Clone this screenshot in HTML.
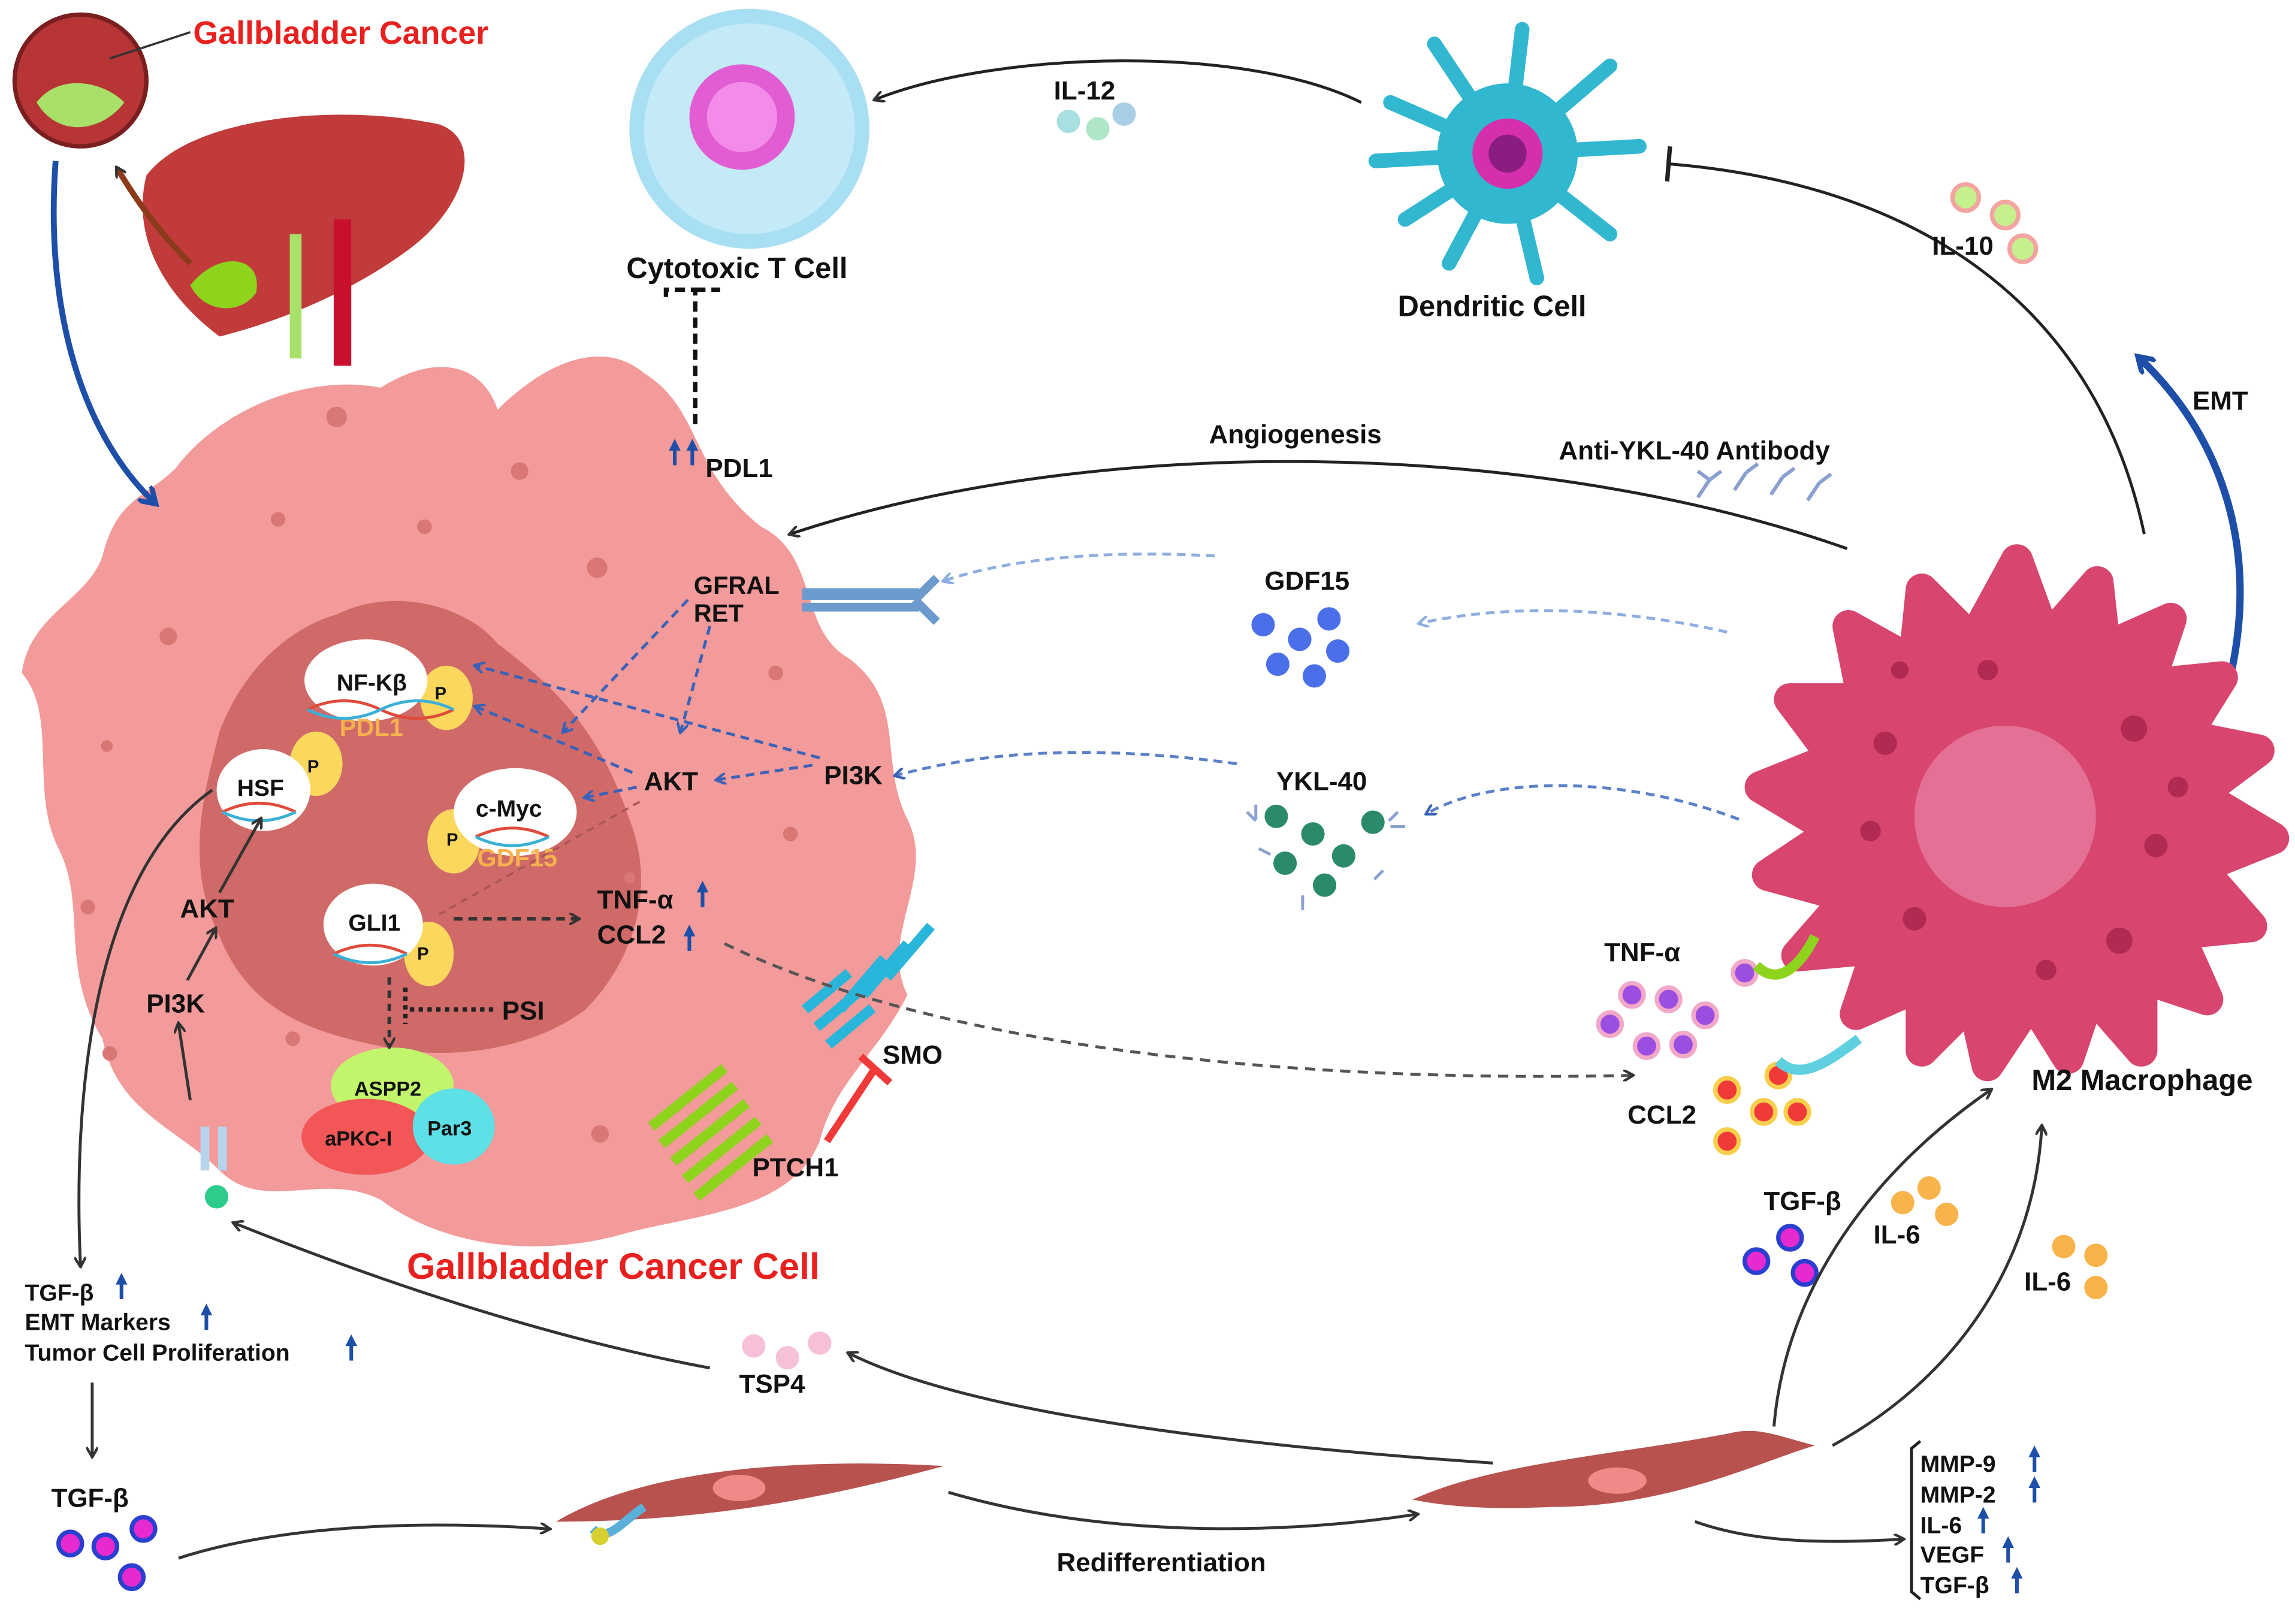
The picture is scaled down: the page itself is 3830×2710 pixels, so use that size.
<!DOCTYPE html>
<html><head><meta charset="utf-8"><style>
html,body{margin:0;padding:0;background:#fff;}
svg{display:block}
text{font-family:"Liberation Sans",sans-serif;font-weight:bold;fill:#111}
</style></head><body>
<svg width="3830" height="2710" viewBox="0 0 1568 1110" preserveAspectRatio="none" xmlns="http://www.w3.org/2000/svg">
<defs>
<marker id="ag" markerWidth="8" markerHeight="8" refX="6" refY="4" orient="auto" markerUnits="userSpaceOnUse"><path d="M0,0 L7,4 L0,8" fill="none" stroke="#333" stroke-width="1.8"/></marker>
<marker id="ab" markerWidth="8" markerHeight="8" refX="6" refY="4" orient="auto" markerUnits="userSpaceOnUse"><path d="M0,0 L7,4 L0,8" fill="none" stroke="#3a62b8" stroke-width="1.8"/></marker>
<marker id="al" markerWidth="8" markerHeight="8" refX="6" refY="4" orient="auto" markerUnits="userSpaceOnUse"><path d="M0,0 L7,4 L0,8" fill="none" stroke="#8eaee0" stroke-width="1.8"/></marker>
<marker id="aB" markerWidth="14" markerHeight="14" refX="9" refY="7" orient="auto" markerUnits="userSpaceOnUse"><path d="M0,0 L11,7 L0,14" fill="none" stroke="#1e4fa8" stroke-width="3.5"/></marker>
<marker id="tb" markerWidth="4" markerHeight="24" refX="2" refY="12" orient="auto" markerUnits="userSpaceOnUse"><path d="M2,0 L2,24" stroke="#222" stroke-width="3"/></marker>
<g id="up"><path d="M0,0 L0,-14" stroke="#1e4fa8" stroke-width="2.5"/><path d="M-4,-10 L0,-18 L4,-10 Z" fill="#1e4fa8"/></g>
</defs>

<!-- cancer cell -->
<path d="M120,320 C150,280 210,255 260,265 C300,240 330,250 340,280 C370,250 410,230 440,255 C480,280 470,320 520,360 C560,380 545,430 580,450 C620,480 600,520 620,560 C640,600 600,640 620,680 C600,720 570,740 560,780 C540,830 470,830 420,845 C360,860 300,850 260,820 C220,800 180,830 150,800 C120,770 80,760 70,710 C40,660 60,620 40,580 C20,540 40,490 15,460 C20,420 60,410 70,380 C80,340 100,340 120,320 Z" fill="#f39a9a"/>
<path d="M230,420 C270,400 320,415 340,440 C380,470 410,500 430,560 C450,610 430,660 400,690 C360,720 300,725 260,715 C210,705 170,690 150,640 C125,590 140,540 150,500 C165,460 195,430 230,420 Z" fill="#cf6a68"/>
<g fill="#d97775">
<circle cx="230" cy="285" r="7"/><circle cx="355" cy="322" r="6"/><circle cx="408" cy="388" r="7"/><circle cx="190" cy="355" r="5"/><circle cx="115" cy="435" r="6"/><circle cx="73" cy="510" r="4"/><circle cx="530" cy="460" r="5"/><circle cx="540" cy="570" r="5"/><circle cx="60" cy="620" r="5"/><circle cx="75" cy="720" r="5"/><circle cx="410" cy="775" r="6"/><circle cx="200" cy="710" r="5"/><circle cx="430" cy="600" r="4"/><circle cx="290" cy="360" r="5"/></g>

<!-- nucleus items -->
<ellipse cx="305" cy="477" rx="18" ry="22" fill="#fbd85d"/><ellipse cx="250" cy="465" rx="42" ry="28" fill="#fff"/>
<text x="230" y="472" font-size="16">NF-Kβ</text><text x="297" y="478" font-size="12">P</text>
<text x="232" y="503" font-size="17" style="fill:#f6b24e">PDL1</text>
<ellipse cx="216" cy="522" rx="18" ry="22" fill="#fbd85d"/><ellipse cx="180" cy="540" rx="32" ry="28" fill="#fff"/>
<text x="162" y="544" font-size="16">HSF</text><text x="210" y="528" font-size="12">P</text>
<ellipse cx="310" cy="575" rx="18" ry="22" fill="#fbd85d"/><ellipse cx="352" cy="555" rx="42" ry="30" fill="#fff"/>
<text x="325" y="558" font-size="16">c-Myc</text><text x="305" y="578" font-size="12">P</text>
<text x="326" y="592" font-size="17" style="fill:#f6b24e">GDF15</text>
<ellipse cx="293" cy="652" rx="17" ry="22" fill="#fbd85d"/><ellipse cx="255" cy="632" rx="34" ry="28" fill="#fff"/>
<text x="238" y="636" font-size="16">GLI1</text><text x="285" y="656" font-size="12">P</text>
<g stroke="#e04a3a" stroke-width="2" fill="none"><path d="M210,485 q25,-12 50,0 t50,0"/><path d="M152,555 q25,-12 50,0"/><path d="M325,572 q25,-12 50,0"/><path d="M228,652 q25,-12 50,0"/></g>
<g stroke="#3ab0d8" stroke-width="2" fill="none"><path d="M210,485 q25,12 50,0 t50,0"/><path d="M152,555 q25,12 50,0"/><path d="M325,572 q25,12 50,0"/><path d="M228,652 q25,12 50,0"/></g>

<!-- ASPP2 etc -->
<ellipse cx="268" cy="742" rx="42" ry="26" fill="#c2f56b"/>
<ellipse cx="250" cy="777" rx="44" ry="26" fill="#f25656"/>
<ellipse cx="310" cy="770" rx="28" ry="26" fill="#5de0e6"/>
<text x="242" y="749" font-size="14">ASPP2</text><text x="222" y="783" font-size="14">aPKC-I</text><text x="292" y="776" font-size="14">Par3</text>

<!-- cell labels -->
<text x="474" y="406" font-size="17">GFRAL</text><text x="474" y="425" font-size="17">RET</text>
<text x="440" y="540" font-size="18">AKT</text><text x="563" y="536" font-size="18">PI3K</text>
<text x="408" y="621" font-size="18">TNF-α</text><text x="408" y="645" font-size="18">CCL2</text>
<use href="#up" x="480" y="620"/><use href="#up" x="471" y="650"/>
<text x="343" y="697" font-size="18">PSI</text>
<text x="123" y="627" font-size="18">AKT</text><text x="100" y="692" font-size="18">PI3K</text>
<text x="603" y="727" font-size="18">SMO</text><text x="514" y="804" font-size="18">PTCH1</text>
<text x="482" y="326" font-size="18">PDL1</text>
<text x="278" y="874" font-size="25" style="fill:#e8201e">Gallbladder Cancer Cell</text>

<!-- receptor GFRAL -->
<rect x="548" y="402" width="80" height="8" fill="#6b9bcd"/><rect x="548" y="412" width="80" height="6" fill="#6b9bcd"/>
<path d="M625,410 L640,395 M625,410 L640,425" stroke="#6b9bcd" stroke-width="6"/>

<!-- SMO / PTCH1 -->
<g stroke="#29b6db" stroke-width="7"><path d="M550,690 l30,-25 M558,702 l30,-25 M566,714 l30,-25 M574,690 l30,-35 M590,680 l30,-35 M606,668 l30,-35"/></g>
<g stroke="#8ed31c" stroke-width="7"><path d="M445,770 l50,-40 M452,782 l50,-40 M460,794 l50,-40 M468,806 l50,-40 M476,818 l50,-40"/></g>
<path d="M565,780 L598,730 M588,722 L608,740" stroke="#f03a3a" stroke-width="5"/>

<!-- inner arrows -->
<g stroke="#3a62b8" stroke-width="2" stroke-dasharray="6,4" fill="none">
<path d="M555,523 L490,533" marker-end="url(#ab)"/>
<path d="M435,538 L400,545" marker-end="url(#ab)"/>
<path d="M560,518 L325,455" marker-end="url(#ab)"/>
<path d="M432,528 L325,483" marker-end="url(#ab)"/>
<path d="M470,410 L385,500" marker-end="url(#ab)"/>
<path d="M485,428 L465,500" marker-end="url(#ab)"/>
</g>
<path d="M845,522 C720,505 650,520 612,530" stroke="#5a80c8" stroke-width="2" stroke-dasharray="6,4" fill="none" marker-end="url(#ab)"/>
<path d="M830,380 C740,375 680,385 645,397" stroke="#8eaee0" stroke-width="2" stroke-dasharray="6,4" fill="none" marker-end="url(#al)"/>
<path d="M1180,432 C1090,412 1020,415 970,426" stroke="#8eaee0" stroke-width="2" stroke-dasharray="6,4" fill="none" marker-end="url(#al)"/>
<path d="M1188,560 C1110,530 1020,530 975,556" stroke="#5a80c8" stroke-width="2" stroke-dasharray="6,4" fill="none" marker-end="url(#ab)"/>
<path d="M310,628 L395,628" stroke="#333" stroke-width="2.5" stroke-dasharray="6,4" marker-end="url(#ag)"/>
<path d="M437,548 L300,625" stroke="#a55" stroke-width="1.5" stroke-dasharray="5,4"/>
<path d="M266,668 L266,715" stroke="#333" stroke-width="2.5" stroke-dasharray="5,4" marker-end="url(#ag)"/>
<path d="M277,675 L277,700 M280,690 L338,690" stroke="#222" stroke-width="3" stroke-dasharray="3,3"/>
<path d="M495,645 C650,720 900,740 1115,735" stroke="#555" stroke-width="2" stroke-dasharray="7,5" fill="none" marker-end="url(#ag)"/>
<g stroke="#333" stroke-width="2" fill="none">
<path d="M130,752 L122,700" marker-end="url(#ag)"/><path d="M128,670 L147,635" marker-end="url(#ag)"/><path d="M150,610 L178,560" marker-end="url(#ag)"/>
<path d="M145,540 C60,600 50,760 55,865" marker-end="url(#ag)"/>
</g>
<!-- receptor bottom-left -->
<path d="M140,800 L140,770 M152,800 L152,770" stroke="#b8d4ec" stroke-width="6"/><circle cx="148" cy="818" r="8" fill="#2ecc8a"/>

<!-- T cell / PDL1 link -->
<path d="M475,290 L475,198 L455,198 L455,206 M475,198 L492,198" stroke="#111" stroke-width="3" stroke-dasharray="7,4" fill="none"/>
<use href="#up" x="461" y="318"/><use href="#up" x="473" y="318"/>

<circle cx="512" cy="88" r="82" fill="#a9dff3"/><circle cx="512" cy="88" r="72" fill="#c4e9f7"/>
<circle cx="507" cy="80" r="36" fill="#e25cd4"/><circle cx="507" cy="80" r="24" fill="#f38be8"/>
<text x="428" y="190" font-size="20">Cytotoxic T Cell</text>

<!-- dendritic -->
<g stroke="#32b7d0" stroke-width="10" stroke-linecap="round" fill="none">
<path d="M1030,105 L950,70 M1030,105 L940,110 M1030,105 L960,150 M1030,105 L990,180 M1030,105 L1050,190 M1030,105 L1100,160 M1030,105 L1120,100 M1030,105 L1100,45 M1030,105 L1040,20 M1030,105 L980,30"/></g>
<circle cx="1030" cy="105" r="48" fill="#32b7d0"/><circle cx="1030" cy="105" r="24" fill="#d52fae"/><circle cx="1030" cy="105" r="13" fill="#8a1d80"/>
<text x="955" y="216" font-size="20">Dendritic Cell</text>

<path d="M930,70 C850,30 680,35 598,68" stroke="#222" stroke-width="2" fill="none" marker-end="url(#ag)"/>
<text x="720" y="68" font-size="18">IL-12</text>
<circle cx="730" cy="83" r="8" fill="#a8dfe0"/><circle cx="750" cy="88" r="8" fill="#b0e6c8"/><circle cx="768" cy="78" r="8" fill="#a8cfe6"/>
<path d="M1465,365 C1430,200 1300,125 1140,112" stroke="#222" stroke-width="2" fill="none" marker-end="url(#tb)"/>
<text x="1320" y="174" font-size="18">IL-10</text>
<circle cx="1343" cy="135" r="9" fill="#c6ef8d" stroke="#f3a4a0" stroke-width="3"/><circle cx="1370" cy="147" r="9" fill="#c6ef8d" stroke="#f3a4a0" stroke-width="3"/><circle cx="1382" cy="170" r="9" fill="#c6ef8d" stroke="#f3a4a0" stroke-width="3"/>
<path d="M1522,470 C1545,380 1520,300 1462,245" stroke="#1e4fa8" stroke-width="5" fill="none" marker-end="url(#aB)"/>
<text x="1498" y="280" font-size="18">EMT</text>

<path d="M1262,375 C1050,300 750,295 540,365" stroke="#222" stroke-width="2" fill="none" marker-end="url(#ag)"/>
<text x="826" y="303" font-size="18">Angiogenesis</text>
<text x="1065" y="314" font-size="18">Anti-YKL-40 Antibody</text>
<g stroke="#8aa0d0" stroke-width="2.5" fill="none"><path d="M1160,340 l8,-12 l-8,-6 M1168,328 l8,-6 M1185,335 l8,-12 M1193,323 l8,-6 M1210,338 l8,-12 M1218,326 l8,-6 M1235,342 l8,-12 M1243,330 l8,-6"/></g>

<!-- GDF15 / YKL40 -->
<text x="864" y="403" font-size="18">GDF15</text>
<g fill="#4a6fe8"><circle cx="863" cy="427" r="8"/><circle cx="888" cy="437" r="8"/><circle cx="908" cy="423" r="8"/><circle cx="873" cy="454" r="8"/><circle cx="898" cy="462" r="8"/><circle cx="914" cy="445" r="8"/></g>
<text x="872" y="540" font-size="18">YKL-40</text>
<g fill="#2a8a6a"><circle cx="872" cy="558" r="8"/><circle cx="897" cy="570" r="8"/><circle cx="938" cy="562" r="8"/><circle cx="878" cy="590" r="8"/><circle cx="918" cy="585" r="8"/><circle cx="905" cy="605" r="8"/></g>
<g stroke="#8aa0d0" stroke-width="2" fill="none"><path d="M852,555 l6,6 M858,550 l0,10 M955,555 l-6,6 M960,565 l-10,0 M945,595 l-6,6 M860,580 l8,4 M890,612 l0,10"/></g>

<!-- macrophage -->
<g transform="translate(1378,558)">
<g fill="#d8456f" stroke="#d8456f" stroke-width="22" stroke-linejoin="round" stroke-linecap="round">
<path d="M0,-175 L20,-120 L55,-160 L60,-115 L105,-135 L90,-90 L140,-95 L115,-55 L165,-45 L125,-15 L175,15 L125,35 L160,75 L110,80 L130,125 L85,110 L85,160 L50,120 L35,165 L10,125 L-20,170 L-30,125 L-65,160 L-65,115 L-110,135 L-95,90 L-150,95 L-115,55 L-170,40 L-125,10 L-175,-20 L-125,-40 L-155,-80 L-105,-80 L-115,-130 L-70,-105 L-65,-155 L-30,-120 Z"/>
</g>
<circle cx="-8" cy="0" r="62" fill="#e57096"/>
<g fill="#b02a52"><circle cx="-90" cy="-50" r="8"/><circle cx="-100" cy="10" r="7"/><circle cx="-70" cy="70" r="8"/><circle cx="80" cy="-60" r="9"/><circle cx="95" cy="20" r="8"/><circle cx="70" cy="85" r="9"/><circle cx="-20" cy="-100" r="7"/><circle cx="20" cy="105" r="7"/><circle cx="-80" cy="-100" r="6"/><circle cx="110" cy="-20" r="7"/></g>
</g>
<text x="1388" y="745" font-size="20">M2 Macrophage</text>

<!-- TNF/CCL2 near macrophage -->
<text x="1096" y="657" font-size="18">TNF-α</text>
<g fill="#9b4fe0" stroke="#f2a8c8" stroke-width="3"><circle cx="1115" cy="680" r="8"/><circle cx="1140" cy="683" r="8"/><circle cx="1165" cy="694" r="8"/><circle cx="1100" cy="700" r="8"/><circle cx="1125" cy="715" r="8"/><circle cx="1150" cy="714" r="8"/><circle cx="1192" cy="665" r="8"/></g>
<path d="M1200,660 C1215,675 1230,660 1240,640" stroke="#8ed31c" stroke-width="7" fill="none"/>
<text x="1112" y="768" font-size="18">CCL2</text>
<g fill="#f03a3a" stroke="#f8cf4a" stroke-width="3"><circle cx="1180" cy="745" r="8"/><circle cx="1205" cy="760" r="8"/><circle cx="1228" cy="760" r="8"/><circle cx="1180" cy="780" r="8"/><circle cx="1215" cy="735" r="8"/></g>
<path d="M1215,725 C1230,740 1250,725 1270,710" stroke="#5fd0e0" stroke-width="7" fill="none"/>

<!-- liver -->
<path d="M100,120 C130,80 230,70 300,85 C330,95 320,140 280,170 C240,200 190,220 150,230 C110,200 90,160 100,120 Z" fill="#c23b3b"/>
<rect x="228" y="150" width="12" height="100" fill="#c8102e"/><rect x="198" y="160" width="8" height="85" fill="#a8e06a"/>
<path d="M130,195 C150,170 180,175 175,200 C165,215 140,215 130,195 Z" fill="#8ed31c"/>
<circle cx="55" cy="55" r="45" fill="#b73535" stroke="#7a1f1f" stroke-width="3"/>
<path d="M25,70 C40,50 70,55 85,70 C70,90 40,95 25,70 Z" fill="#a8e06a"/>
<path d="M75,40 L130,22" stroke="#333" stroke-width="1.5"/>
<text x="132" y="30" font-size="22" style="fill:#e8201e">Gallbladder Cancer</text>
<path d="M130,180 C110,160 95,140 80,115" stroke="#8b3a1a" stroke-width="4" fill="none" marker-end="url(#ag)"/>
<path d="M38,110 C30,220 60,300 105,343" stroke="#1e4fa8" stroke-width="4" fill="none" marker-end="url(#aB)"/>

<!-- bottom left text -->
<text x="17" y="889" font-size="16">TGF-β</text><text x="17" y="909" font-size="16">EMT Markers</text><text x="17" y="930" font-size="16">Tumor Cell Proliferation</text>
<use href="#up" x="83" y="888"/><use href="#up" x="141" y="909"/><use href="#up" x="240" y="930"/>
<path d="M63,945 L63,995" stroke="#333" stroke-width="2" marker-end="url(#ag)"/>
<text x="35" y="1030" font-size="18">TGF-β</text>
<g fill="#e62ad0" stroke="#2a3fd0" stroke-width="3"><circle cx="48" cy="1055" r="8"/><circle cx="72" cy="1057" r="8"/><circle cx="98" cy="1045" r="8"/><circle cx="90" cy="1078" r="8"/><circle cx="1200" cy="862" r="8"/><circle cx="1223" cy="846" r="8"/><circle cx="1233" cy="870" r="8"/></g>
<path d="M122,1065 C200,1040 300,1040 375,1045" stroke="#333" stroke-width="2" fill="none" marker-end="url(#ag)"/>

<!-- fibroblasts -->
<path d="M380,1040 C430,1010 520,995 645,1002 C560,1025 480,1040 380,1040 Z" fill="#b8524e"/>
<ellipse cx="505" cy="1017" rx="18" ry="9" fill="#f08a88"/>
<path d="M405,1045 C415,1055 425,1040 440,1030" stroke="#5ab0d8" stroke-width="6" fill="none"/><circle cx="410" cy="1050" r="6" fill="#d8d030"/>
<path d="M965,1025 C1020,1000 1100,995 1180,980 C1200,975 1210,980 1240,988 C1200,1000 1140,1030 1060,1030 C1020,1032 990,1030 965,1025 Z" fill="#b8524e"/>
<ellipse cx="1105" cy="1012" rx="20" ry="9" fill="#f08a88"/>
<path d="M648,1020 C750,1050 870,1050 968,1035" stroke="#333" stroke-width="2" fill="none" marker-end="url(#ag)"/>
<text x="722" y="1074" font-size="18">Redifferentiation</text>
<path d="M1020,1000 C800,985 650,960 580,925" stroke="#333" stroke-width="2" fill="none" marker-end="url(#ag)"/>
<path d="M485,935 C350,910 220,860 160,836" stroke="#333" stroke-width="2" fill="none" marker-end="url(#ag)"/>
<text x="505" y="952" font-size="18">TSP4</text>
<circle cx="515" cy="920" r="8" fill="#f6c0d8"/><circle cx="538" cy="928" r="8" fill="#f6c0d8"/><circle cx="560" cy="918" r="8" fill="#f6c0d8"/>
<path d="M1212,975 C1220,880 1280,800 1360,745" stroke="#333" stroke-width="2" fill="none" marker-end="url(#ag)"/>
<path d="M1252,988 C1340,940 1390,860 1395,770" stroke="#333" stroke-width="2" fill="none" marker-end="url(#ag)"/>
<text x="1205" y="827" font-size="18">TGF-β</text>
<text x="1280" y="850" font-size="18">IL-6</text>
<g fill="#f8b34a"><circle cx="1300" cy="822" r="8"/><circle cx="1318" cy="812" r="8"/><circle cx="1330" cy="830" r="8"/><circle cx="1410" cy="852" r="8"/><circle cx="1432" cy="858" r="8"/><circle cx="1432" cy="880" r="8"/></g>
<text x="1383" y="882" font-size="18">IL-6</text>
<path d="M1158,1040 C1200,1055 1250,1055 1300,1052" stroke="#333" stroke-width="2" fill="none" marker-end="url(#ag)"/>
<path d="M1312,985 L1306,990 L1306,1088 L1312,1093" stroke="#222" stroke-width="2" fill="none"/>
<g font-size="16"><text x="1312" y="1006">MMP-9</text><text x="1312" y="1027">MMP-2</text><text x="1312" y="1048">IL-6</text><text x="1312" y="1068">VEGF</text><text x="1312" y="1089">TGF-β</text></g>
<use href="#up" x="1390" y="1006"/><use href="#up" x="1390" y="1027"/><use href="#up" x="1355" y="1048"/><use href="#up" x="1372" y="1068"/><use href="#up" x="1378" y="1089"/>
</svg>
</body></html>
